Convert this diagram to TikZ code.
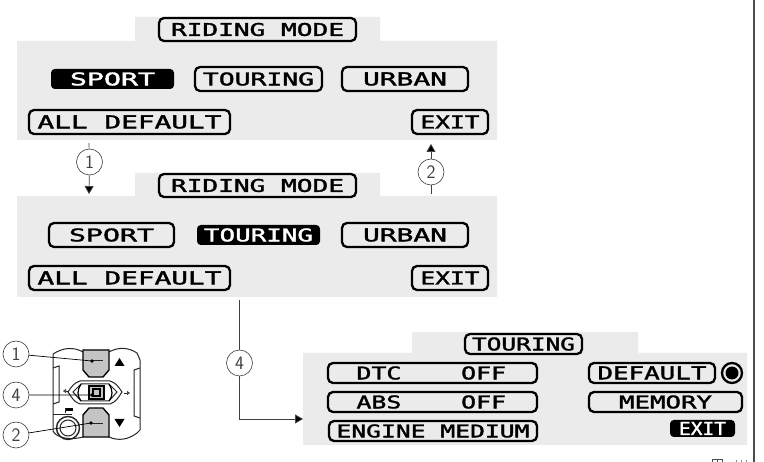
\documentclass[tikz,border=0pt]{standalone}
\usepackage{fontspec}
\usepackage{graphicx}
\usetikzlibrary{arrows.meta}
\newfontfamily\pixfont[FakeBold=1.6]{DejaVu Sans Mono}
\definecolor{lcdbg}{HTML}{EBEBEB}
\definecolor{btn}{HTML}{C4C4C4}
\newcommand{\pill}[8][pillbox]{%
  \pgfmathsetmacro{\pw}{#5-#3}\pgfmathsetmacro{\ph}{#6-#4}%
  \pgfmathsetmacro{\pcx}{(#5+#3)/2}\pgfmathsetmacro{\pcy}{(#6+#4)/2}%
  \node[#1,minimum width=\pw pt-2pt,minimum height=\ph pt-2pt] (#2) at (\pcx,\pcy)
    {\resizebox{#7pt}{13pt}{\pixfont #8}};}
\tikzset{
  pillbox/.style={draw=black,line width=2.3pt,rounded corners=5pt,inner sep=0pt,fill=none,text=black},
  pillsel/.style={draw=black,fill=black,line width=2pt,rounded corners=3pt,inner sep=0pt,text=white},
  callout/.style={circle,draw=black!75,fill=white,line width=0.6pt,minimum size=26pt,inner sep=0pt,font=\fontsize{19}{19}\selectfont\sffamily,text=black!75},
  leader/.style={draw=black!75,line width=0.7pt},
  arrowed/.style={leader,-{Triangle[length=8pt,width=9pt,fill=black]}},
  housing/.style={draw=black!85,line width=1pt},
  keycap/.style={draw=black,line width=1.4pt,fill=btn},
  panelbg/.style={fill=lcdbg,draw=none}
}
\begin{document}
\begin{tikzpicture}[x=1pt,y=-1pt]
\useasboundingbox (0,0) rectangle (764,462);
\fill[white] (0,0) rectangle (764,462);
% panels
\fill[panelbg] (135,17) rectangle (380,41) (17,41) rectangle (497,140);
\fill[panelbg] (135,173) rectangle (380,196) (17,196) rectangle (497,297);
\fill[panelbg] (412,332) rectangle (638,353) (303,353) rectangle (747,445);
% panel 1
\pill{t1}{158}{17}{357}{42}{173}{RIDING~MODE}
\pill[pillsel]{a1}{51}{69}{174}{89}{85}{SPORT}
\pill{b1}{194}{66}{323}{92}{111}{TOURING}
\pill{c1}{341}{66}{469}{92}{84}{URBAN}
\pill{d1}{28}{109}{231}{135}{184}{ALL~DEFAULT}
\pill{e1}{411}{109}{489}{135}{59}{EXIT}
% panel 2
\pill{t2}{158}{173}{357}{198}{173}{RIDING~MODE}
\pill{a2}{48}{222}{175}{248}{85}{SPORT}
\pill[pillsel]{b2}{197}{225}{320}{245}{109}{TOURING}
\pill{c2}{341}{222}{469}{248}{84}{URBAN}
\pill{d2}{28}{265}{231}{291}{184}{ALL~DEFAULT}
\pill{e2}{411}{265}{489}{291}{59}{EXIT}
% panel 3
\pill{t3}{464}{333}{583}{355}{103}{TOURING}
\pill{p1}{327}{362}{538}{384}{147}{\hspace*{-1pt}DTC~~~~OFF}
\pill{p2}{327}{391}{538}{413}{147}{\hspace*{-1pt}ABS~~~~OFF}
\pill{p3}{328}{420}{538}{442}{193}{ENGINE~MEDIUM}
\pill{p4}{588}{362}{716}{384}{109}{DEFAULT}
\pill{p5}{588}{391}{743}{413}{93}{MEMORY}
\pill[pillsel]{p6}{670}{420}{735}{437}{47}{EXIT}
\node[circle,draw=black,line width=2.3pt,minimum size=20pt,inner sep=0pt] (rb) at (732,373) {};
\fill[black] (rb.center) circle (6.5);
% connectors
\coordinate (s1) at (89,143); \coordinate (h1) at (89,194);
\node[callout] (n1) at (89.5,162) {1};
\draw[leader] (s1) -- (n1);
\draw[arrowed] (n1) -- (h1);
\coordinate (s2) at (431,194); \coordinate (h2) at (431,144);
\node[callout] (n2) at (431,172) {2};
\draw[leader] (s2) -- (n2);
\draw[arrowed] (n2) -- (h2);
\coordinate (s4) at (239.5,300); \coordinate (k4) at (239.5,419); \coordinate (h4) at (303,419);
\node[callout] (n4) at (239.5,363) {4};
\draw[leader] (s4) -- (n4);
\draw[arrowed] (n4) -- (k4) -- (h4);
% right rule and cut-off code
\coordinate (r0) at (754,0); \coordinate (r1) at (754,462);
\draw[draw=black!70,line width=1.6pt] (r0) -- (r1);
\draw[black!70,line width=0.8pt] (712,462) -- (712,459) -- (722,459) -- (722,462) (717,459) -- (717,462);
\draw[black!45,line width=0.8pt] (736,460) -- (736,462) (741,460) -- (741,462) (746,460) -- (746,462);
% switch housing
\draw[housing] (83,352) .. controls (74,347) and (64,347) .. (53,354) -- (53,431) .. controls (56,437) and (68,441) .. (83,437);
\draw[housing] (109,352) .. controls (118,347) and (128,347) .. (137,353) -- (140,360) -- (140,430) -- (137,433) .. controls (128,440) and (118,441) .. (109,437);
\draw[housing] (53,368) -- (59,366) -- (59,402) -- (53,404);
\draw[housing] (140,368) -- (134,370) -- (134,416) -- (140,418);
\draw[housing] (53,415) -- (72,415);
\draw[housing,line width=1.4pt] (68,428) circle (11.5);
\draw[housing] (68,428) circle (8);
\fill[black] (65,408) rectangle (73,411);
\draw[housing] (65,408) -- (65,413);
% keys
\draw[keycap] (83,350) -- (109,350) -- (109,370) -- (103,377) -- (89,377) -- (83,370) -- cycle;
\draw[keycap] (89,408) -- (103,408) -- (109,415) -- (109,437) -- (83,437) -- (83,415) -- cycle;
\draw[housing] (92,361) -- (103,361) (90,424) -- (103,424);
% centre joystick
\draw[housing,fill=white] (68,392) .. controls (72,386) and (74,383) .. (80,381) -- (110,381) .. controls (116,383) and (118,386) .. (122,392) .. controls (118,398) and (116,402) .. (110,404) -- (80,404) .. controls (74,402) and (72,398) .. (68,392) -- cycle;
\draw[housing] (73,392) -- (81,384) -- (109,384) -- (117,392) -- (109,401) -- (81,401) -- cycle;
\draw[black,line width=1.2pt] (81,384) .. controls (77,390) and (77,396) .. (81,401) (109,384) .. controls (113,390) and (113,396) .. (109,401);
\draw[black,line width=2.4pt,fill=btn] (89,386) rectangle (104,399);
\draw[black,line width=1.2pt] (93,389) rectangle (100,396);
% direction marks
\fill[black] (119.5,358) -- (124.5,366) -- (114.5,366) -- cycle;
\fill[black] (114.5,419) -- (124.5,419) -- (119.5,427) -- cycle;
\draw[housing,line width=0.6pt,-{Triangle[open,length=3pt,width=4pt]}] (124,393) -- (130,393);
\draw[housing,line width=0.6pt,-{Triangle[open,length=3pt,width=4pt]}] (68,391) -- (63,391);
% switch callouts
\node[callout] (m1) at (16,354) {1};
\node[callout] (m4) at (16,395) {4};
\node[callout] (m2) at (16,435) {2};
\coordinate (d1) at (92,361); \coordinate (d4) at (92,395); \coordinate (d2) at (91,423);
\draw[draw=black,line width=0.7pt] (m1) -- (d1) (m4) -- (d4) (m2) -- (d2);
\fill[black] (d1) circle (1.8) (d4) circle (1.8) (d2) circle (1.8);
\end{tikzpicture}
\end{document}
